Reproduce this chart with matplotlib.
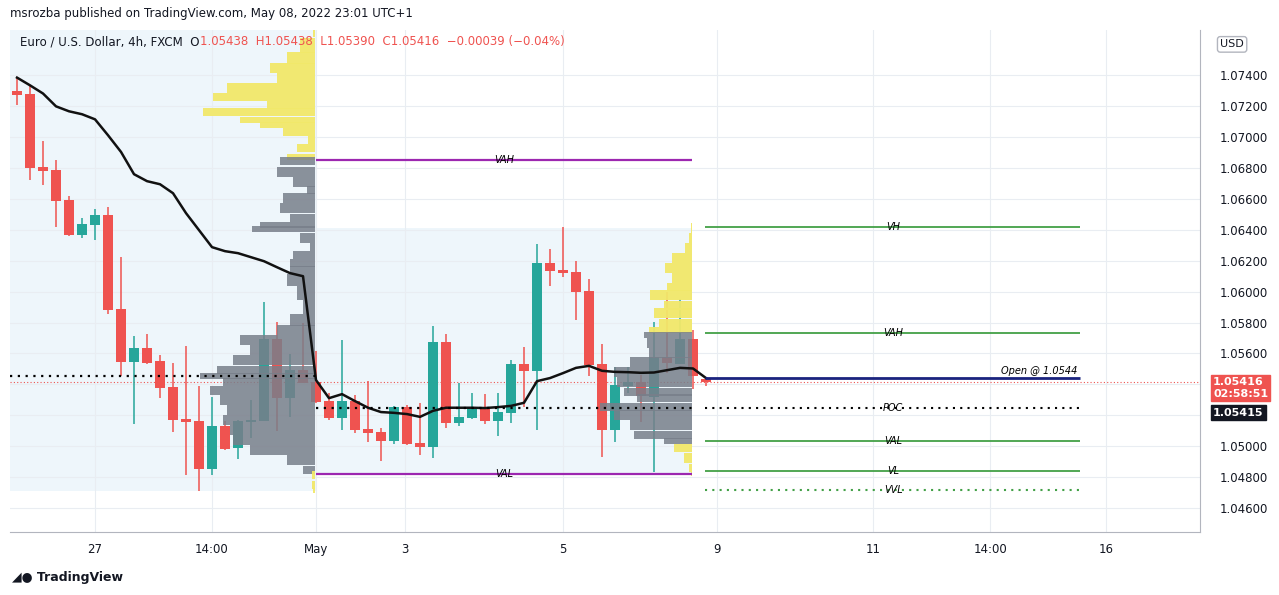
import matplotlib
matplotlib.use("Agg")
import matplotlib.pyplot as plt
from matplotlib.patches import Rectangle
import numpy as np

# 4h candles, EUR/USD
opens = [1.0730, 1.07277, 1.06805, 1.06786, 1.06592, 1.06365, 1.06430, 1.06495, 1.05887, 1.05546,
         1.05635, 1.05551, 1.05382, 1.05175, 1.05163, 1.04854, 1.05130, 1.04988, 1.05156, 1.05163,
         1.05693, 1.05311, 1.05492, 1.05417, 1.05292, 1.05184, 1.05292, 1.05111, 1.05091, 1.05035,
         1.05255, 1.05022, 1.04996, 1.05673, 1.05152, 1.05184, 1.05249, 1.05165, 1.05216, 1.05531,
         1.05488, 1.06184, 1.06139, 1.06128, 1.06003, 1.05531, 1.05104, 1.05390, 1.05417, 1.05320,
         1.05578, 1.05531, 1.05693, 1.05438]
highs = [1.07387, 1.07339, 1.06973, 1.06850, 1.06617, 1.06475, 1.06533, 1.06548, 1.06223, 1.05712,
         1.05725, 1.05589, 1.05538, 1.05648, 1.05389, 1.05318, 1.05163, 1.05169, 1.05298, 1.05932,
         1.05803, 1.05596, 1.05796, 1.05615, 1.05342, 1.05686, 1.05331, 1.05421, 1.05117, 1.05261,
         1.05266, 1.05281, 1.05777, 1.05725, 1.05410, 1.05344, 1.05339, 1.05344, 1.05557, 1.05641,
         1.06307, 1.06275, 1.06419, 1.06197, 1.06081, 1.05661, 1.05514, 1.05514, 1.05460, 1.05805,
         1.06001, 1.05953, 1.05751, 1.05438]
lows = [1.07209, 1.06721, 1.06689, 1.06419, 1.06359, 1.06348, 1.06333, 1.05854, 1.05454, 1.05143,
        1.05530, 1.05311, 1.05091, 1.04813, 1.04710, 1.04813, 1.04975, 1.04917, 1.05053, 1.05160,
        1.05098, 1.05188, 1.05410, 1.05280, 1.05169, 1.05104, 1.05087, 1.05029, 1.04906, 1.05014,
        1.05010, 1.04943, 1.04925, 1.05119, 1.05132, 1.05176, 1.05143, 1.05068, 1.05152, 1.05255,
        1.05104, 1.06037, 1.06096, 1.05816, 1.05454, 1.04932, 1.05029, 1.05344, 1.05158, 1.04835,
        1.05475, 1.05531, 1.05368, 1.05390]
closes = [1.07274, 1.06800, 1.06781, 1.06587, 1.06365, 1.06436, 1.06495, 1.05880, 1.05546, 1.05635,
          1.05540, 1.05376, 1.05169, 1.05156, 1.04854, 1.05130, 1.04982, 1.05163, 1.05169, 1.05693,
          1.05311, 1.05492, 1.05410, 1.05287, 1.05184, 1.05292, 1.05104, 1.05087, 1.05035, 1.05255,
          1.05014, 1.04996, 1.05673, 1.05152, 1.05188, 1.05249, 1.05165, 1.05221, 1.05531, 1.05488,
          1.06184, 1.06135, 1.06122, 1.05999, 1.05525, 1.05104, 1.05397, 1.05417, 1.05324, 1.05578,
          1.05536, 1.05693, 1.05456, 1.05416]

# moving average (black line)
ma = [1.07385, 1.07335, 1.07282, 1.07199, 1.07167, 1.07148, 1.07115, 1.07012, 1.06904, 1.06760,
      1.06715, 1.06695, 1.06637, 1.06508, 1.06398, 1.06288, 1.06262, 1.06249, 1.06223, 1.06197,
      1.06158, 1.06120, 1.06100, 1.05428, 1.05311, 1.05337, 1.05292, 1.05249, 1.05221, 1.05216,
      1.05208, 1.05190, 1.05229, 1.05249, 1.05249, 1.05249, 1.05247, 1.05253, 1.05261, 1.05281,
      1.05421, 1.05441, 1.05473, 1.05507, 1.05520, 1.05488, 1.05481, 1.05479, 1.05475, 1.05477,
      1.05492, 1.05507, 1.05503, 1.05441]

# volume profile, session 1 (Apr 26 - Apr 29)
vp1_levels = [1.07705, 1.07595, 1.07511, 1.07447, 1.07382, 1.07317, 1.07259, 1.07207, 1.07162, 1.07110,
              1.07078, 1.07033, 1.06981, 1.06929, 1.06871, 1.06845, 1.06774, 1.06709, 1.06657, 1.06606,
              1.06541, 1.06476, 1.06431, 1.06405, 1.06347, 1.06289, 1.06237, 1.06185, 1.06140, 1.06075,
              1.05991, 1.05900, 1.05816, 1.05752, 1.05687, 1.05622, 1.05558, 1.05493, 1.05454, 1.05415,
              1.05363, 1.05299, 1.05234, 1.05169, 1.05105, 1.05040, 1.04975, 1.04911, 1.04846, 1.04814,
              1.04749, 1.04716]
vp1_volume = [2, 15, 28, 45, 38, 88, 102, 48, 112, 75,
              55, 32, 7, 18, 28, 35, 38, 22, 8, 32,
              35, 25, 55, 63, 15, 5, 22, 25, 25, 28,
              18, 12, 25, 38, 75, 65, 82, 98, 115, 92,
              105, 95, 88, 92, 85, 82, 65, 28, 12, 3,
              3, 2]
vp1_vah, vp1_val, vp1_poc = 1.06852, 1.04820, 1.05454

# volume profile, session 2 (May 1 - May 6)
vp2_levels = [1.06412, 1.06347, 1.06282, 1.06218, 1.06153, 1.06088, 1.06030, 1.05978, 1.05913, 1.05862,
              1.05797, 1.05752, 1.05719, 1.05668, 1.05603, 1.05545, 1.05480, 1.05415, 1.05351, 1.05312,
              1.05253, 1.05202, 1.05137, 1.05072, 1.05033, 1.04988, 1.04924, 1.04859, 1.04826]
vp2_volume = [1, 3, 7, 20, 27, 20, 25, 42, 28, 38,
              33, 43, 48, 45, 43, 62, 78, 75, 68, 55,
              92, 78, 62, 58, 28, 18, 8, 3, 1]
vp2_vah, vp2_val, vp2_poc = 1.05732, 1.05033, 1.05247

# levels projected forward
level_names = ["VH", "VAH", "POC", "VAL", "VL", "VVL"]
level_prices = [1.06418, 1.05732, 1.05247, 1.05033, 1.04839, 1.04716]
open_price = 1.0544
last_price = 1.05416

tick_pos = [6.0, 15.0, 23.0, 29.85, 42.0, 53.85, 65.85, 74.85, 83.77]
tick_labels = ["27", "14:00", "May", "3", "5", "9", "11", "14:00", "16"]
price_ticks = np.arange(1.046, 1.0745, 0.002)
hidden_ticks = [1.054, 1.052]  # covered by price badges

RED = "#ef5350"
GREEN = "#26a69a"
GRAY = "#787f8a"
YELLOW = "#f2e86a"
BG = "#eef6fb"
PX = 13.0  # pixels per candle

fig = plt.figure(figsize=(12.79, 5.95), dpi=100)
ax = fig.add_axes([10 / 1279, 63 / 595, 1190 / 1279, 502 / 595])
ax.set_xlim(-0.54, 91.0)
ax.set_ylim(1.04445, 1.07693)

# session backgrounds
ax.add_patch(Rectangle((-0.54, 1.0471), 23.54, 0.0305, color=BG, zorder=0, lw=0))
ax.add_patch(Rectangle((23.0, 1.0482), 28.9, 0.0159, color=BG, zorder=0, lw=0))

# candles
idx = np.arange(len(opens))
o, h, l, c = map(np.array, (opens, highs, lows, closes))
cols = np.where(c >= o, GREEN, RED)
ax.vlines(idx, l, h, colors=cols, lw=1.1, zorder=2)
ax.bar(idx, np.maximum(np.abs(c - o), 0.00004), bottom=np.minimum(o, c), width=0.7, color=cols, zorder=2)


def profile(levels, vol, right, vah, val):
    lv = np.array(levels)
    w = np.array(vol) / PX
    hgt = np.abs(np.gradient(lv)) * 1.02
    inside = (lv <= vah + 1e-6) & (lv >= val - 1e-6)
    colors = np.where(inside, GRAY, YELLOW)
    alphas = np.where(inside, 0.85, 0.95)
    for y, ww, hh, cc, aa in zip(lv, w, hgt, colors, alphas):
        ax.barh(y, ww, height=hh, left=right - ww, color=cc, alpha=aa, lw=0, zorder=3)


profile(vp1_levels, vp1_volume, 22.92, vp1_vah, vp1_val)
profile(vp2_levels, vp2_volume, 51.9, vp2_vah, vp2_val)

ax.plot(idx, ma, color="#111111", lw=1.8, zorder=4)

# session value area / poc lines
ax.hlines([vp1_vah, vp1_val], 23.0, 51.9, color="#9c27b0", lw=1.6, zorder=5)
ax.hlines(vp1_poc, -0.54, 23.0, color="black", lw=1.6, linestyles=(0, (1, 2.5)), zorder=5)
ax.hlines(vp2_poc, 23.0, 51.9, color="black", lw=1.6, linestyles=(0, (1, 2.5)), zorder=5)
ax.text(37.5, vp1_vah, "VAH", fontsize=7, style="italic", ha="center", va="center", zorder=6)
ax.text(37.5, vp1_val, "VAL", fontsize=7, style="italic", ha="center", va="center", zorder=6)

ax.axhline(last_price, color=RED, lw=0.8, ls=(0, (1, 2)), zorder=1)

x0, x1 = 52.9, 81.8
styles = {"VH": ("#43a047", "-"), "VAH": ("#43a047", "-"), "POC": ("black", (0, (1, 2.5))),
          "VAL": ("#43a047", "-"), "VL": ("#43a047", "-"), "VVL": ("#43a047", (0, (1, 2.5)))}
for name, price in zip(level_names, level_prices):
    col, ls = styles[name]
    ax.hlines(price, x0, x1, color=col, lw=1.3 if ls == "-" else 1.5, linestyles=ls, zorder=5)
    ax.text(67.4, price, name, fontsize=7, style="italic", ha="center", va="center", zorder=6)
ax.hlines(open_price, x0, x1, color="#1a237e", lw=2, zorder=5)
ax.text(x1 - 0.2, open_price + 0.00012, "Open @ 1.0544", fontsize=7, style="italic", ha="right",
        va="bottom", zorder=6)

# axes styling
ax.set_xticks(tick_pos)
ax.set_xticklabels(tick_labels)
ax.set_yticks(price_ticks)
ax.set_yticklabels(["" if any(abs(p - q) < 1e-6 for q in hidden_ticks) else f"{p:.5f}"
                    for p in price_ticks])
ax.yaxis.tick_right()
ax.tick_params(axis="y", length=0, pad=14, labelsize=8.5, colors="#131722")
ax.tick_params(axis="x", length=0, pad=8, labelsize=8.5, colors="#131722")
ax.grid(True, color="#e9edf2", lw=0.8, zorder=0.5)
ax.set_axisbelow(True)
for s in ("top", "left"):
    ax.spines[s].set_visible(False)
ax.spines["right"].set_color("#b2b5be")
ax.spines["bottom"].set_color("#b2b5be")

# price badges
tr = ax.get_yaxis_transform()
ax.text(1.011, 1.05376, "1.05416\n02:58:51", transform=tr, fontsize=8, color="white",
        fontweight="bold", va="center", ha="left", linespacing=1.25,
        bbox=dict(boxstyle="square,pad=0.2", fc=RED, ec=RED))
ax.text(1.011, 1.05218, "1.05415", transform=tr, fontsize=8, color="white", fontweight="bold",
        va="center", ha="left", bbox=dict(boxstyle="square,pad=0.2", fc="#131722", ec="#131722"))
ax.text(1.017, 1.07600, "USD", transform=tr, fontsize=8, color="#131722", va="center", ha="left",
        bbox=dict(boxstyle="round,pad=0.25", fc="white", ec="#b2b5be"))

# header / footer text
fig.text(10 / 1279, 1 - 13 / 595, "msrozba published on TradingView.com, May 08, 2022 23:01 UTC+1",
         fontsize=8.5, color="#131722", va="center")
t1 = fig.text(20 / 1279, 1 - 42 / 595, "Euro / U.S. Dollar, 4h, FXCM  O", fontsize=8.5, color="#131722",
              va="center")
fig.canvas.draw()
bb = t1.get_window_extent()
fig.text(bb.x1 / 1279, 1 - 42 / 595, "1.05438  H1.05438  L1.05390  C1.05416  \u22120.00039 (\u22120.04%)",
         fontsize=8.5, color=RED, va="center")
fig.text(12 / 1279, 1 - 577 / 595, "\u25e2\u25cf TradingView", fontsize=9, color="#131722",
         fontweight="bold", va="center")

fig.savefig("out.png", dpi=100, facecolor="white")
